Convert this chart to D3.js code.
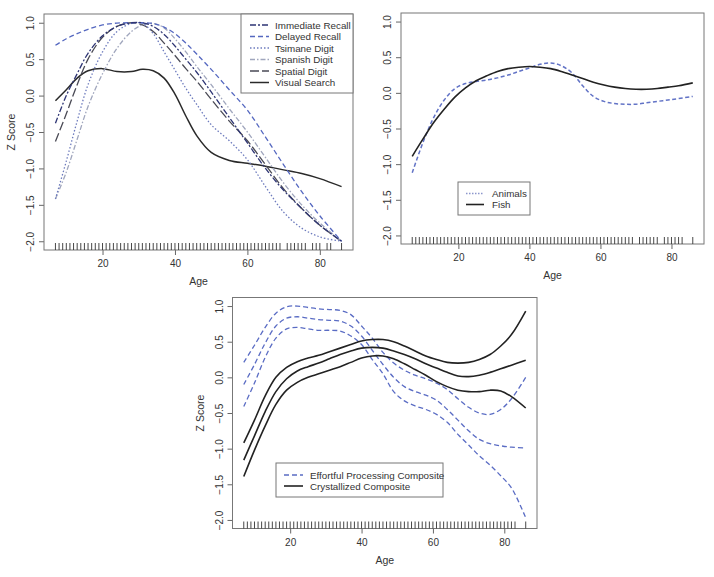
<!DOCTYPE html>
<html><head><meta charset="utf-8">
<script src="https://cdn.jsdelivr.net/npm/d3@7"></script>
<style>body{margin:0;background:#fff}svg{display:block}text{font-family:"Liberation Sans",Arial,sans-serif;fill:#333}</style>
</head><body><svg id="c" width="714" height="577"></svg>
<script>
// ---------- DATA ----------
const ages1 = [7,10,13,16,20,24,28,31,34,37,40,43,46,50,55,60,65,70,75,80,86];
const immediateRecall = [-0.38,0.0,0.3,0.58,0.82,0.95,1.0,1.0,0.95,0.84,0.68,0.5,0.32,0.05,-0.3,-0.65,-1.0,-1.3,-1.55,-1.78,-2.0];
const delayedRecall   = [0.69,0.78,0.85,0.91,0.97,0.995,1.0,1.0,0.99,0.94,0.85,0.72,0.57,0.36,0.08,-0.2,-0.57,-0.95,-1.32,-1.65,-2.0];
const tsimaneDigit    = [-1.42,-0.9,-0.35,0.15,0.6,0.88,0.99,0.99,0.85,0.6,0.35,0.1,-0.12,-0.4,-0.62,-0.88,-1.25,-1.6,-1.82,-1.94,-2.0];
const spanishDigit    = [-1.42,-1.05,-0.6,-0.15,0.3,0.65,0.88,0.97,0.99,0.93,0.78,0.6,0.4,0.15,-0.18,-0.5,-0.85,-1.2,-1.5,-1.75,-2.0];
const spatialDigit    = [-0.63,-0.25,0.15,0.5,0.8,0.95,1.0,0.97,0.88,0.72,0.55,0.37,0.2,-0.05,-0.35,-0.62,-0.95,-1.28,-1.55,-1.78,-2.0];
const visualSearch    = [-0.07,0.08,0.24,0.34,0.37,0.33,0.33,0.36,0.34,0.24,0.02,-0.28,-0.55,-0.78,-0.89,-0.93,-0.97,-1.02,-1.07,-1.14,-1.25];

const ages2 = [7,10,13,16,19,22,25,28,31,34,37,40,43,46,49,52,55,58,61,64,67,70,73,76,79,82,86];
const animals = [-1.12,-0.7,-0.35,-0.1,0.06,0.13,0.16,0.18,0.21,0.25,0.3,0.35,0.4,0.42,0.38,0.28,0.1,-0.05,-0.12,-0.15,-0.16,-0.16,-0.14,-0.12,-0.1,-0.08,-0.05];
const fish    = [-0.89,-0.65,-0.42,-0.23,-0.06,0.07,0.17,0.24,0.3,0.34,0.36,0.37,0.36,0.34,0.3,0.25,0.2,0.15,0.11,0.08,0.06,0.05,0.05,0.06,0.08,0.1,0.14];

const effortfulUpper = [0.21,0.45,0.7,0.9,0.99,1.0,0.98,0.96,0.95,0.94,0.88,0.72,0.55,0.35,0.2,0.1,0.03,-0.02,-0.08,-0.17,-0.3,-0.42,-0.5,-0.52,-0.45,-0.3,0.0];
const effortfulMid   = [-0.1,0.18,0.48,0.72,0.83,0.85,0.83,0.81,0.8,0.79,0.72,0.58,0.38,0.18,0.0,-0.13,-0.2,-0.25,-0.32,-0.45,-0.6,-0.75,-0.87,-0.93,-0.96,-0.98,-0.99];
const effortfulLower = [-0.41,-0.08,0.28,0.55,0.68,0.7,0.68,0.66,0.66,0.65,0.58,0.46,0.25,0.05,-0.2,-0.33,-0.4,-0.45,-0.52,-0.63,-0.8,-0.95,-1.1,-1.23,-1.38,-1.55,-1.97];
const crystUpper = [-0.92,-0.6,-0.26,0.0,0.14,0.22,0.27,0.31,0.36,0.41,0.46,0.51,0.53,0.53,0.5,0.44,0.37,0.3,0.25,0.21,0.2,0.21,0.25,0.32,0.44,0.6,0.93];
const crystMid   = [-1.16,-0.82,-0.48,-0.2,-0.02,0.09,0.15,0.2,0.26,0.32,0.37,0.41,0.42,0.41,0.37,0.32,0.26,0.19,0.13,0.07,0.02,0.01,0.03,0.07,0.12,0.17,0.24];
const crystLower = [-1.39,-1.02,-0.68,-0.38,-0.18,-0.07,0.0,0.05,0.1,0.15,0.21,0.27,0.3,0.3,0.26,0.19,0.11,0.03,-0.06,-0.13,-0.18,-0.2,-0.2,-0.18,-0.19,-0.27,-0.43];

const rug1 = d3.range(7,70).concat([71,72,73,74,75,76,78,79,80,82,83,86]);
const rug2 = d3.range(7,70).concat([71,72,73,74,75,76,78,79,80,81,82,83,86]);
const rug3 = d3.range(7,84).concat([86]);

const xTicks = [20,40,60,80];
const yTicks = [-2.0,-1.5,-1.0,-0.5,0.0,0.5,1.0];

const legend1 = ["Immediate Recall","Delayed Recall","Tsimane Digit","Spanish Digit","Spatial Digit","Visual Search"];
const legend2 = ["Animals","Fish"];
const legend3 = ["Effortful Processing Composite","Crystallized Composite"];

// ---------- STYLES ----------
const st = {
  imm:{c:"#2e3574",d:"6,2,2,2",w:1.3},
  del:{c:"#5568c0",d:"5,3",w:1.3},
  tsi:{c:"#6e7cbe",d:"1.5,2",w:1.3},
  spa:{c:"#a0a6bd",d:"5,2,1.5,2",w:1.3},
  spt:{c:"#4a4a55",d:"9,3",w:1.3},
  vis:{c:"#2a2a2a",d:null,w:1.5},
  ani:{c:"#6273c6",d:"4,2.5",w:1.5},
  fsh:{c:"#222",d:null,w:1.6},
  eff:{c:"#5a6cc4",d:"5,3",w:1.3},
  cry:{c:"#222",d:null,w:1.6}
};

const svg = d3.select("#c");
const xDom=[7-0.04*79, 86+0.04*79], yDom=[-2.12,1.12];

function panel(o){
  const g = svg.append("g");
  const x = d3.scaleLinear().domain(xDom).range([o.l,o.r]);
  const y = d3.scaleLinear().domain(yDom).range([o.b,o.t]);
  const ax = g.append("g").attr("transform",`translate(0,${o.b})`).call(d3.axisBottom(x).tickValues(xTicks).tickSize(5).tickPadding(3).tickFormat(d3.format("d")));
  const ay = g.append("g").attr("transform",`translate(${o.l},0)`).call(d3.axisLeft(y).tickValues(yTicks).tickSize(5).tickPadding(3).tickFormat(d3.format(".1f")));
  [ax,ay].forEach(a=>{a.select(".domain").remove();a.selectAll("line").attr("stroke","#666");a.selectAll("text").attr("font-size",10).attr("fill","#333").attr("font-family","Liberation Sans, Arial, sans-serif");});
  ax.selectAll("text").attr("dy","0.9em");
  ay.selectAll("text").attr("text-anchor","middle").attr("dy",null).attr("x",null)
    .attr("transform","translate(-13,0) rotate(-90)").attr("y",3);
  g.append("rect").attr("x",o.l).attr("y",o.t).attr("width",o.r-o.l).attr("height",o.b-o.t).attr("fill","none").attr("stroke","#777").attr("stroke-width",1);
  g.append("g").selectAll("line").data(o.rug).join("line")
    .attr("x1",d=>x(d)).attr("x2",d=>x(d)).attr("y1",o.b).attr("y2",o.b-7).attr("stroke","#333").attr("stroke-width",0.9);
  g.append("text").attr("x",(o.l+o.r)/2).attr("y",o.b+35).attr("text-anchor","middle").attr("font-size",10.5).text("Age");
  if(o.ylab) g.append("text").attr("transform",`translate(${o.l-29},${(o.t+o.b)/2}) rotate(-90)`).attr("text-anchor","middle").attr("font-size",10.5).text("Z Score");
  const line = d3.line().x(d=>x(d[0])).y(d=>y(d[1])).curve(d3.curveCatmullRom.alpha(0.5));
  o.series.forEach(s=>{
    g.append("path").datum(o.ages.map((a,i)=>[a,s.v[i]])).attr("d",line)
      .attr("fill","none").attr("stroke",s.s.c).attr("stroke-width",s.s.w).attr("stroke-dasharray",s.s.d);
  });
  const L=o.leg;
  g.append("rect").attr("x",L.x).attr("y",L.y).attr("width",L.w).attr("height",L.h).attr("fill","#fff").attr("stroke","#777");
  L.items.forEach((it,i)=>{
    const yy=L.y0+i*L.dy;
    g.append("line").attr("x1",L.lx).attr("x2",L.lx+L.lw).attr("y1",yy).attr("y2",yy).attr("stroke",it.s.c).attr("stroke-width",it.s.w).attr("stroke-dasharray",it.s.d);
    g.append("text").attr("x",L.tx).attr("y",yy+3.5).attr("font-size",9.8).text(it.t);
  });
}

panel({l:44,r:353,t:14,b:250,rug:rug1,ylab:true,ages:ages1,
  series:[{v:visualSearch,s:st.vis},{v:spatialDigit,s:st.spt},{v:spanishDigit,s:st.spa},{v:tsimaneDigit,s:st.tsi},{v:delayedRecall,s:st.del},{v:immediateRecall,s:st.imm}],
  leg:{x:241,y:14,w:112,h:79,y0:25,dy:11.5,lx:250,lw:19,tx:275,
    items:[{t:legend1[0],s:st.imm},{t:legend1[1],s:st.del},{t:legend1[2],s:st.tsi},{t:legend1[3],s:st.spa},{t:legend1[4],s:st.spt},{t:legend1[5],s:st.vis}]}});

panel({l:401,r:704,t:13,b:244,rug:rug2,ylab:false,ages:ages2,
  series:[{v:animals,s:st.ani},{v:fish,s:st.fsh}],
  leg:{x:458,y:182,w:72,h:33,y0:193.5,dy:11,lx:466,lw:18,tx:492,
    items:[{t:legend2[0],s:{c:"#8c96cc",d:"1.5,1.5",w:1.3}},{t:legend2[1],s:st.fsh}]}});

panel({l:232.5,r:537,t:297.5,b:528.5,rug:rug3,ylab:true,ages:ages2,
  series:[{v:effortfulUpper,s:st.eff},{v:effortfulMid,s:st.eff},{v:effortfulLower,s:st.eff},{v:crystUpper,s:st.cry},{v:crystMid,s:st.cry},{v:crystLower,s:st.cry}],
  leg:{x:276,y:463,w:167,h:34,y0:475,dy:11,lx:284,lw:19,tx:310,
    items:[{t:legend3[0],s:st.eff},{t:legend3[1],s:st.cry}]}});
</script></body></html>
